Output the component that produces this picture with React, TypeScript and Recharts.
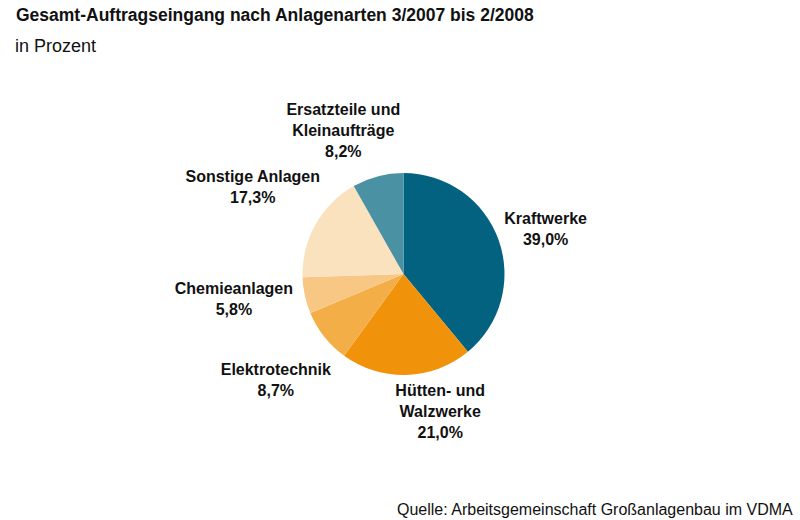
import React from 'react';
import { PieChart, Pie, Cell } from 'recharts';

const categories = [
  'Kraftwerke',
  'Hütten- und Walzwerke',
  'Elektrotechnik',
  'Chemieanlagen',
  'Sonstige Anlagen',
  'Ersatzteile und Kleinaufträge',
];
const shares = [39.0, 21.0, 8.7, 5.8, 17.3, 8.2];
// label text split into lines
const labelLines = [
  ['Kraftwerke'],
  ['Hütten- und', 'Walzwerke'],
  ['Elektrotechnik'],
  ['Chemieanlagen'],
  ['Sonstige Anlagen'],
  ['Ersatzteile und', 'Kleinaufträge'],
];
const colors = ['#03627f', '#f0920a', '#f4ae48', '#f8c784', '#fbe2bf', '#4a91a3'];
// small hand nudges so labels sit where they read best
const labelNudge = [
  [1, 6],
  [32, -12],
  [-10, 13],
  [-23, -7],
  [-20, -14],
  [-22, 2],
];

const data = categories.map((name, i) => ({ name, value: shares[i] }));

const RADIAN = Math.PI / 180;
const fmt = (v: number) => v.toFixed(1).replace('.', ',') + '%';

const renderLabel = (props: any) => {
  const { cx, cy, midAngle, index } = props;
  const r = 150;
  const [dx, dy] = labelNudge[index];
  const x = cx + r * Math.cos(-midAngle * RADIAN) + dx;
  const yc = cy + r * Math.sin(-midAngle * RADIAN) + dy;
  const lines = [...labelLines[index], fmt(shares[index])];
  const lh = 21;
  const y0 = yc - ((lines.length - 1) * lh) / 2 + 5.5;
  return (
    <text
      x={x}
      y={y0}
      textAnchor="middle"
      fill="#111"
      fontSize={16}
      fontWeight="bold"
      fontFamily="'Liberation Sans', Arial, sans-serif"
    >
      {lines.map((t, i) => (
        <tspan key={i} x={x} y={y0 + i * lh}>
          {t}
        </tspan>
      ))}
    </text>
  );
};

export default function App() {
  return (
    <div
      style={{
        position: 'absolute',
        left: 0,
        top: 0,
        width: 800,
        height: 520,
        background: '#fff',
        fontFamily: "'Liberation Sans', Arial, sans-serif",
        color: '#111',
      }}
    >
      <div style={{ position: 'absolute', left: 16, top: 5, fontSize: 17.5, fontWeight: 'bold' }}>
        Gesamt-Auftragseingang nach Anlagenarten 3/2007 bis 2/2008
      </div>
      <div style={{ position: 'absolute', left: 15, top: 36, fontSize: 18 }}>in Prozent</div>
      <PieChart
        width={800}
        height={520}
        margin={{ top: 0, right: 0, bottom: 0, left: 0 }}
        style={{ position: 'absolute', left: 0, top: 0 }}
      >
        <Pie
          data={data}
          dataKey="value"
          nameKey="name"
          cx={403.5}
          cy={274}
          outerRadius={101}
          startAngle={90}
          endAngle={-270}
          stroke="none"
          label={renderLabel}
          labelLine={false}
          isAnimationActive={false}
        >
          {data.map((d, i) => (
            <Cell key={d.name} fill={colors[i]} />
          ))}
        </Pie>
      </PieChart>
      <div style={{ position: 'absolute', left: 397, top: 501, fontSize: 16 }}>
        Quelle: Arbeitsgemeinschaft Großanlagenbau im VDMA
      </div>
    </div>
  );
}
